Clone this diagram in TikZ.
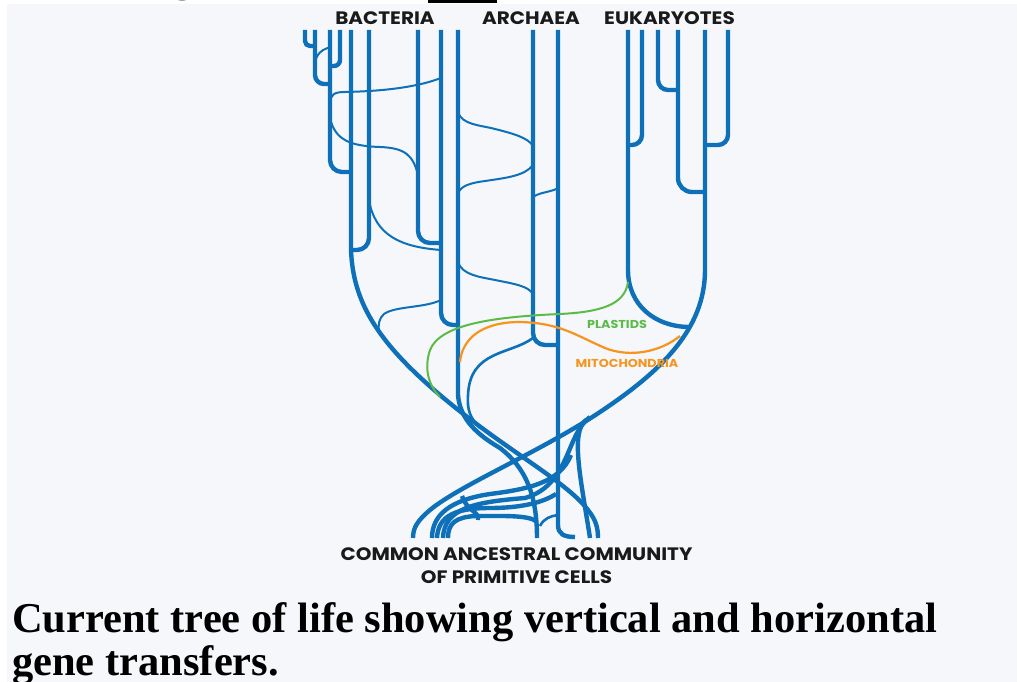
\documentclass[tikz,border=0pt]{standalone}
\usepackage{fontspec}
\newfontfamily\labelfont{Poppins}[FakeStretch=1.11]
\newfontfamily\capfont{Liberation Serif}
\usetikzlibrary{positioning}
\definecolor{lifeblue}{HTML}{0E70B8}
\definecolor{plastgreen}{HTML}{5CBA47}
\definecolor{mitoorange}{HTML}{F7941D}
\definecolor{panelgray}{HTML}{F5F7FA}
\definecolor{labelink}{HTML}{1A1A1A}
\tikzset{
  trunk/.style={draw=lifeblue,line width=4.4pt},
  xfer/.style={draw=lifeblue,line width=2pt},
  plastidline/.style={draw=plastgreen,line width=2pt},
  mitoline/.style={draw=mitoorange,line width=2.2pt},
  domainlabel/.style={font=\labelfont\bfseries\fontsize{18}{20}\selectfont,
                 text=labelink,inner sep=0pt,anchor=base},
  organelle/.style={font=\labelfont\bfseries\fontsize{11.5}{13}\selectfont,
                    inner sep=0pt,anchor=base},
  captionline/.style={font=\capfont\bfseries\fontsize{42.5}{48}\selectfont,
                  inner sep=0pt,anchor=base west}
}
\begin{document}
\begin{tikzpicture}[x=1pt,y=-1pt]
  \useasboundingbox (0,0) rectangle (1017,682);
  \fill[white] (0,0) rectangle (1017,682);
  \fill[panelgray] (7,4) rectangle (1017,682);
  % cut-off heading above the panel
  \node[captionline] (headg) at (172,-8) {g};
  \node[captionline] (headl) at (413,-8) {[};
  \fill[black] (428,-10) rectangle (497,3);
  \node[captionline] (headr) at (496,-8) {]};

  % bacteria
  \draw[trunk,rounded corners=5pt] (305,30) |- (315,46);
  \draw[trunk,rounded corners=9pt] (315,30) |- (330,84);
  \draw[trunk,rounded corners=6pt] (340,30) |- (330,66);
  \draw[trunk,rounded corners=12pt] (330,30) |- (351,172);
  \draw[trunk,rounded corners=12pt] (369,30) |- (351,250);
  \draw[trunk,rounded corners=12pt] (418,30) |- (441,243);
  \draw[trunk,rounded corners=12pt] (441,30) |- (458,325);
  \draw[trunk] (351,30) -- (351,250)
    .. controls (353,300) and (375,340) .. (440,395)
    .. controls (505,450) and (565,480) .. (588,510)
    .. controls (596,520) and (598,528) .. (598,538);
  \draw[xfer] (331,47) .. controls (318,50) and (315,58) .. (315,66);
  \draw[xfer] (330,104) .. controls (330,94) and (335,92) .. (345,92)
    .. controls (390,91) and (420,86) .. (441,78);
  \draw[xfer] (330,118) .. controls (335,140) and (350,146) .. (380,147)
    .. controls (405,148) and (413,155) .. (418,175);
  \draw[xfer] (369,200) .. controls (375,235) and (400,247) .. (441,250);
  \draw[xfer] (441,300) .. controls (425,308) and (395,306) .. (384,314)
    .. controls (379,318) and (378,325) .. (379,332);

  % archaea
  \draw[trunk] (458,30) -- (458,395)
    .. controls (460,420) and (478,435) .. (500,448)
    .. controls (526,468) and (537,495) .. (537,538);
  \draw[trunk,rounded corners=12pt] (533,30) |- (558,345);
  \draw[trunk] (558,30) -- (558,525)
    .. controls (558,534) and (564,537) .. (575,537);
  \draw[xfer] (458,112) .. controls (462,125) and (480,125) .. (495,129)
    .. controls (515,134) and (528,138) .. (533,146);
  \draw[xfer] (533,165) .. controls (525,176) and (505,178) .. (485,181)
    .. controls (470,183) and (460,186) .. (458,194);
  \draw[xfer] (533,197) .. controls (540,192) and (552,192) .. (558,188);
  \draw[xfer] (458,262) .. controls (462,275) and (480,277) .. (495,280)
    .. controls (515,284) and (528,286) .. (533,294);
  \draw[xfer,line width=2.6pt] (533,338) .. controls (510,355) and (470,350) .. (468,395)
    .. controls (467,410) and (470,418) .. (480,428);

  % eukaryotes
  \draw[trunk,rounded corners=10pt] (642,30) |- (628,145);
  \draw[trunk,rounded corners=10pt] (658,30) |- (678,90);
  \draw[trunk,rounded corners=14pt] (678,30) |- (705,192);
  \draw[trunk,rounded corners=10pt] (728,30) |- (705,145);
  \draw[trunk] (628,30) -- (628,270)
    .. controls (628,305) and (655,327) .. (690,327);
  \draw[trunk] (705,30) -- (705,270)
    .. controls (705,330) and (660,372) .. (600,412)
    .. controls (540,452) and (460,485) .. (430,510)
    .. controls (417,521) and (413,528) .. (413,538);

  % organelle transfers
  \draw[plastidline] (628,282) .. controls (625,305) and (600,312) .. (560,314)
    .. controls (490,317) and (440,325) .. (430,350)
    .. controls (424,368) and (428,385) .. (440,397);
  \draw[mitoline] (680,336) .. controls (660,352) and (630,358) .. (605,348)
    .. controls (575,335) and (560,323) .. (520,322)
    .. controls (480,322) and (462,340) .. (460,362);
  \node[organelle,text=plastgreen] (plastids) at (617,328) {PLASTIDS};
  \node[organelle,text=mitoorange] (mito) at (627,367) {MITOCHONDRIA};

  % ancestral tangle
  \draw[trunk] (586,420) .. controls (570,432) and (581,480) .. (590,538);
  \draw[trunk] (590,417) .. controls (566,434) and (570,485) .. (525,498)
    .. controls (475,502) and (444,508) .. (443,538);
  \draw[trunk] (432,538) .. controls (432,515) and (450,500) .. (490,494)
    .. controls (530,489) and (560,482) .. (571,455);
  \draw[trunk] (437,538) .. controls (438,516) and (455,508) .. (490,508)
    .. controls (520,508) and (542,503) .. (556,494);
  \draw[trunk] (448,538) .. controls (448,523) and (456,517) .. (476,516)
    .. controls (505,516) and (530,515) .. (537,522);
  \draw[trunk] (462,496) .. controls (466,510) and (480,512) .. (478,520);
  \draw[xfer,line width=2.6pt] (540,526) .. controls (544,518) and (551,516) .. (558,515);

  % labels
  \node[domainlabel] (bacteria) at (385,25) {BACTERIA};
  \node[domainlabel] (archaea) at (531,25) {ARCHAEA};
  \node[domainlabel] (eukaryotes) at (669.5,25) {EUKARYOTES};
  \node[domainlabel] (ancestral) at (516.5,560) {COMMON ANCESTRAL COMMUNITY};
  \node[domainlabel] (primitive) at (516.5,583) {OF PRIMITIVE CELLS};
  \node[captionline] (capone) at (12,632)
    {Current tree of life showing vertical and horizontal};
  \node[captionline] (captwo) at (12,675) {gene transfers.};
\end{tikzpicture}
\end{document}
